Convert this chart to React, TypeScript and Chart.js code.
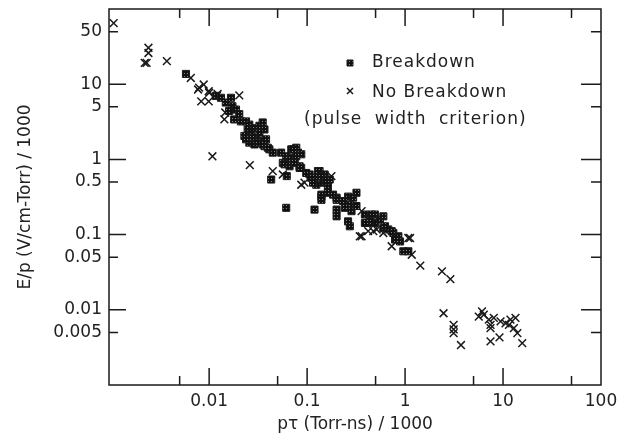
import { useEffect, useRef } from 'react';
import { Chart, registerables } from 'chart.js';

Chart.register(...registerables);

// Breakdown points: [pτ, E/p]
const breakdownPoints: [number, number][] = [
  [0.0058, 13.7], [0.0117, 7.0], [0.0132, 6.6], [0.0148, 5.7], [0.0167, 6.6],
  [0.0173, 5.1], [0.016, 4.4], [0.0188, 4.6], [0.0203, 4.0], [0.018, 3.4],
  [0.0211, 3.2], [0.0238, 3.2], [0.0257, 2.9], [0.0247, 2.5], [0.029, 2.6],
  [0.0326, 2.8], [0.0352, 3.1], [0.0367, 2.5], [0.0229, 2.05], [0.0267, 2.15],
  [0.0301, 1.95], [0.0326, 2.27], [0.0257, 1.67], [0.029, 1.58], [0.0339, 1.75],
  [0.0381, 1.85], [0.0367, 1.5], [0.0412, 1.36], [0.0446, 1.23], [0.0543, 1.23],
  [0.0612, 1.1], [0.0689, 1.36], [0.0775, 1.43], [0.0806, 1.23], [0.0744, 1.0],
  [0.0636, 1.0], [0.0565, 0.9], [0.0838, 0.81], [0.0238, 1.85], [0.0277, 1.95],
  [0.0312, 1.67], [0.0352, 1.58], [0.0397, 1.43], [0.0716, 1.36], [0.0872, 1.17],
  [0.0689, 1.05], [0.0775, 1.1], [0.0588, 0.86], [0.0662, 0.81], [0.0744, 0.9],
  [0.0838, 0.77], [0.062, 0.6], [0.043, 0.54], [0.106, 0.63], [0.119, 0.57],
  [0.134, 0.7], [0.151, 0.63], [0.17, 0.54], [0.124, 0.46], [0.145, 0.49],
  [0.163, 0.44], [0.0612, 0.227], [0.119, 0.215], [0.14, 0.32], [0.163, 0.36],
  [0.2, 0.31], [0.2, 0.215], [0.087, 0.77], [0.098, 0.66], [0.11, 0.57],
  [0.129, 0.7], [0.14, 0.6], [0.157, 0.51], [0.115, 0.49], [0.14, 0.34],
  [0.14, 0.29], [0.184, 0.34], [0.2, 0.29], [0.233, 0.28], [0.262, 0.32],
  [0.295, 0.31], [0.273, 0.25], [0.243, 0.227], [0.284, 0.205], [0.319, 0.24],
  [0.2, 0.175], [0.273, 0.129], [0.262, 0.15], [0.389, 0.185], [0.438, 0.167],
  [0.492, 0.185], [0.42, 0.143], [0.492, 0.143], [0.554, 0.158], [0.6, 0.123],
  [0.674, 0.117], [0.759, 0.105], [0.854, 0.095], [0.889, 0.081], [0.79, 0.086],
  [0.319, 0.36], [0.455, 0.185], [0.438, 0.15], [0.6, 0.175], [0.389, 0.143],
  [0.624, 0.129], [0.73, 0.111], [0.96, 0.06], [1.08, 0.06],
];

// No-breakdown points: [pτ, E/p]
const noBreakdownPoints: [number, number][] = [
  [0.00106, 65], [0.0024, 30.5], [0.0024, 26], [0.0022, 19.2], [0.0023, 19.2],
  [0.0037, 20.3], [0.0065, 12.1], [0.0088, 9.9], [0.0077, 8.5], [0.0099, 8.1],
  [0.0083, 5.9], [0.0099, 5.9], [0.01, 7.7], [0.0122, 7.4], [0.0203, 7.1],
  [0.0079, 9.0], [0.012, 7.0], [0.0108, 1.1], [0.026, 0.84], [0.0143, 3.4],
  [0.0146, 4.2], [0.0446, 0.7], [0.0565, 0.63], [0.0872, 0.46], [0.094, 0.49],
  [0.177, 0.6], [0.36, 0.205], [0.345, 0.095], [0.42, 0.111], [0.513, 0.117],
  [0.474, 0.111], [0.36, 0.095], [0.6, 0.105], [0.73, 0.07], [1.08, 0.09],
  [1.125, 0.09], [1.17, 0.054], [1.43, 0.0386], [2.38, 0.0324], [2.9, 0.0256],
  [2.47, 0.009], [3.13, 0.0063], [3.13, 0.0055], [3.13, 0.0049], [3.72, 0.0034],
  [6.1, 0.0095], [5.65, 0.0081], [6.36, 0.0086], [7.16, 0.0074], [7.45, 0.0063],
  [7.45, 0.0057], [8.05, 0.0078], [9.43, 0.007], [10.6, 0.0066], [11.9, 0.0074],
  [13.4, 0.0078], [11.5, 0.0063], [12.9, 0.0057], [14, 0.0049], [15.7, 0.0036],
  [7.45, 0.0038], [9.2, 0.0043],
];

const seriesNames = ['Breakdown', 'No Breakdown'];
const legendNote = '(pulse width criterion)';
const xTitle = 'pτ (Torr-ns) / 1000';
const yTitle = 'E/p (V/cm-Torr) / 1000';

const xTickValues = [0.01, 0.1, 1, 10, 100];
const xTickLabels = ['0.01', '0.1', '1', '10', '100'];
const yTickValues = [0.005, 0.01, 0.05, 0.1, 0.5, 1, 5, 10, 50];
const yTickLabels = ['0.005', '0.01', '0.05', '0.1', '0.5', '1', '5', '10', '50'];
const majorMarks = [0.01, 0.1, 1, 10];
const minorMarks = [0.005, 0.05, 0.5, 5, 50];

const X_MIN = 0.00095;
const X_MAX = 100;
const Y_MIN = 0.001;
const Y_MAX = 100;

const FONT = '"DejaVu Sans", sans-serif';
const INK = '#1a1a1a';

function makePattern(ctx: CanvasRenderingContext2D): CanvasPattern | string {
  const pc = document.createElement('canvas');
  pc.width = 3;
  pc.height = 3;
  const p = pc.getContext('2d');
  if (!p) return INK;
  p.fillStyle = '#111111';
  p.fillRect(0, 0, 3, 3);
  p.fillStyle = '#8a8a8a';
  p.fillRect(1, 1, 1, 1);
  return ctx.createPattern(pc, 'repeat') || INK;
}

export default function App() {
  const canvasRef = useRef<HTMLCanvasElement | null>(null);

  useEffect(() => {
    const canvas = canvasRef.current;
    if (!canvas) return;
    const ctx = canvas.getContext('2d');
    if (!ctx) return;
    const pattern = makePattern(ctx);

    const framePlugin = {
      id: 'frameTicksLegend',
      afterDatasetsDraw(chart: any) {
        const c = chart.ctx as CanvasRenderingContext2D;
        const { left, right, top, bottom } = chart.chartArea;
        const xs = chart.scales.x;
        const ys = chart.scales.y;
        c.save();
        c.strokeStyle = INK;
        c.lineWidth = 1.5;
        c.strokeRect(left, top, right - left, bottom - top);
        const drawMarks = (vals: number[], len: number, rlen: number) => {
          vals.forEach((v) => {
            const px = xs.getPixelForValue(v);
            c.beginPath();
            c.moveTo(px, bottom);
            c.lineTo(px, bottom - len);
            c.moveTo(px, top);
            c.lineTo(px, top + len);
            c.stroke();
            const py = ys.getPixelForValue(v);
            c.beginPath();
            c.moveTo(left, py);
            c.lineTo(left + len, py);
            c.moveTo(right, py);
            c.lineTo(right - rlen, py);
            c.stroke();
          });
        };
        drawMarks(majorMarks, 17, 20);
        drawMarks(minorMarks, 9, 10);

        // legend
        c.fillStyle = pattern as any;
        c.strokeStyle = INK;
        c.lineWidth = 1;
        const mx = 350;
        c.beginPath();
        c.rect(mx - 3, 63 - 3, 6, 6);
        c.fill();
        c.stroke();
        c.lineWidth = 1.5;
        c.beginPath();
        c.moveTo(mx - 3, 91 - 3);
        c.lineTo(mx + 3, 91 + 3);
        c.moveTo(mx + 3, 91 - 3);
        c.lineTo(mx - 3, 91 + 3);
        c.stroke();
        c.fillStyle = '#222';
        c.font = `17px ${FONT}`;
        c.textBaseline = 'middle';
        c.textAlign = 'left';
        (c as any).letterSpacing = '1px';
        c.fillText(seriesNames[0], 372, 63);
        c.fillText(seriesNames[1], 372, 93);
        (c as any).wordSpacing = '6px';
        c.fillText(legendNote, 304, 120);
        c.restore();
      },
    };

    const chart = new Chart(canvas, {
      type: 'scatter',
      data: {
        datasets: [
          {
            label: seriesNames[0],
            data: breakdownPoints.map(([x, y]) => ({ x, y })),
            pointStyle: 'rect',
            pointRadius: 5,
            backgroundColor: pattern as any,
            borderColor: INK,
            borderWidth: 1,
          },
          {
            label: seriesNames[1],
            data: noBreakdownPoints.map(([x, y]) => ({ x, y })),
            pointStyle: 'crossRot',
            pointRadius: 5.5,
            backgroundColor: INK,
            borderColor: INK,
            borderWidth: 1.5,
          },
        ],
      },
      options: {
        responsive: false,
        animation: false,
        events: [],
        layout: { padding: { top: 9, right: 24, bottom: 0, left: 0 } },
        plugins: {
          legend: { display: false },
          tooltip: { enabled: false },
        },
        scales: {
          x: {
            type: 'logarithmic',
            min: X_MIN,
            max: X_MAX,
            afterBuildTicks: (s: any) => {
              s.ticks = xTickValues.map((value) => ({ value }));
            },
            afterFit: (s: any) => {
              s.height = 58;
              s.paddingLeft = 0;
              s.paddingRight = 0;
            },
            grid: { display: false, drawTicks: false },
            border: { display: false },
            ticks: {
              autoSkip: false,
              maxRotation: 0,
              padding: 6,
              color: '#222',
              font: { family: FONT, size: 17 },
              callback: (v: any) => {
                const i = xTickValues.indexOf(Number(v));
                return i >= 0 ? xTickLabels[i] : '';
              },
            },
            title: {
              display: true,
              text: xTitle,
              color: '#222',
              font: { family: FONT, size: 17 },
              padding: { top: 0, bottom: 8 },
            },
          },
          y: {
            type: 'logarithmic',
            min: Y_MIN,
            max: Y_MAX,
            afterBuildTicks: (s: any) => {
              s.ticks = yTickValues.map((value) => ({ value }));
            },
            afterFit: (s: any) => {
              s.width = 109;
              s.paddingTop = 0;
              s.paddingBottom = 0;
            },
            grid: { display: false, drawTicks: false },
            border: { display: false },
            ticks: {
              autoSkip: false,
              padding: 7,
              color: '#222',
              font: { family: FONT, size: 17 },
              callback: (v: any) => {
                const i = yTickValues.indexOf(Number(v));
                return i >= 0 ? yTickLabels[i] : '';
              },
            },
            title: {
              display: true,
              text: yTitle,
              color: '#222',
              font: { family: FONT, size: 17 },
              padding: { top: 15, bottom: 0 },
            },
          },
        },
      },
      plugins: [framePlugin],
    } as any);

    return () => chart.destroy();
  }, []);

  return (
    <div style={{ position: 'absolute', left: 0, top: 0, width: 625, height: 443, background: '#fff' }}>
      <canvas ref={canvasRef} width={625} height={443} style={{ display: 'block' }} />
    </div>
  );
}
